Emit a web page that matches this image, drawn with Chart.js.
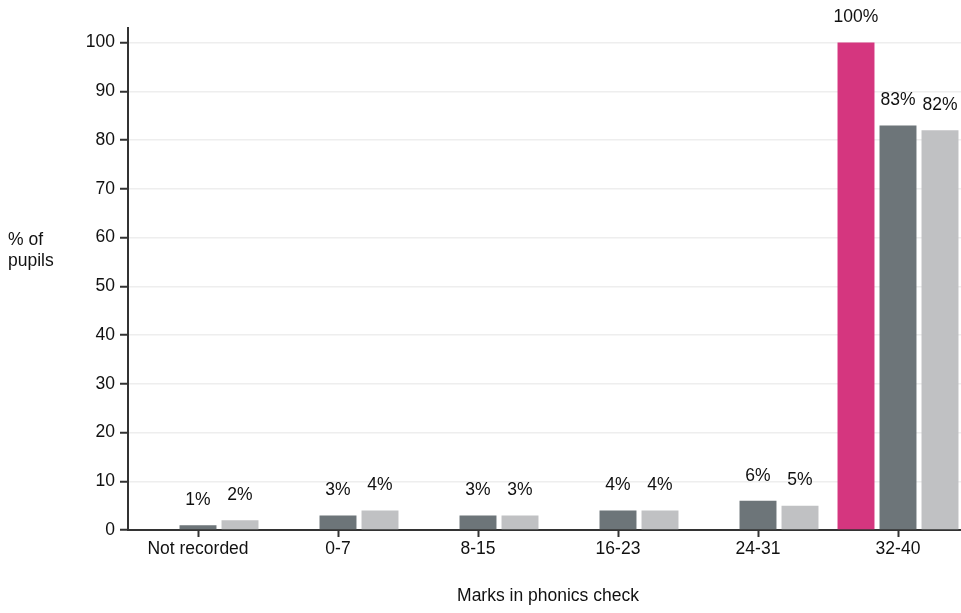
<!DOCTYPE html>
<html>
<head>
<meta charset="utf-8">
<script src="https://cdn.jsdelivr.net/npm/chart.js@4"></script>
<style>
  html, body { margin: 0; padding: 0; background: #fff; overflow: hidden; }
  #wrap { width: 968px; height: 613px; }
</style>
</head>
<body>
<div id="wrap"><canvas id="chart"></canvas></div>
<script>
const categories = ["Not recorded", "0-7", "8-15", "16-23", "24-31", "32-40"];
const schoolValues = [0, 0, 0, 0, 0, 100];
const groupValues = [1, 3, 3, 4, 6, 83];
const nationalValues = [2, 4, 3, 4, 5, 82];
const yTicks = [0, 10, 20, 30, 40, 50, 60, 70, 80, 90, 100];

const FONT = "'Liberation Sans', Arial, sans-serif";
const FS = 17.5;

// value labels above bars + axis titles
const labelPlugin = {
    id: "labels",
    afterDatasetsDraw(chart) {
        const ctx = chart.ctx;
        ctx.save();
        ctx.font = FS + "px " + FONT;
        ctx.fillStyle = "#111";
        ctx.textAlign = "center";
        ctx.textBaseline = "middle";
        chart.data.datasets.forEach((ds, i) => {
            const meta = chart.getDatasetMeta(i);
            meta.data.forEach((bar, j) => {
                const v = ds.data[j];
                if (!v) return;
                ctx.fillText(v + "%", bar.x, bar.y - 25);
            });
        });

        ctx.textAlign = "left";
        ctx.fillText("% of", 8, 240);
        ctx.fillText("pupils", 8, 261);

        ctx.textAlign = "center";
        const a = chart.chartArea;
        ctx.fillText("Marks in phonics check", (a.left + a.right) / 2, 596);
        ctx.restore();
    }
};

new Chart(document.getElementById("chart"), {
    type: "bar",
    data: {
        labels: categories,
        datasets: [
            { label: "School", data: schoolValues, backgroundColor: "#d5367f" },
            { label: "Group", data: groupValues, backgroundColor: "#6d7579" },
            { label: "National", data: nationalValues, backgroundColor: "#c0c1c3" }
        ]
    },
    options: {
        responsive: true,
        maintainAspectRatio: false,
        animation: false,
        datasets: {
            bar: { categoryPercentage: 0.9, barPercentage: 0.88 }
        },
        layout: { padding: { top: 28, right: 0, left: 0, bottom: 0 } },
        plugins: {
            legend: { display: false },
            tooltip: { enabled: false }
        },
        scales: {
            x: {
                grid: {
                    offset: false,
                    drawOnChartArea: false,
                    drawTicks: true,
                    tickLength: 7,
                    tickColor: "#333",
                    tickWidth: 2
                },
                border: { color: "#333", width: 2 },
                ticks: {
                    color: "#111",
                    font: { size: FS, family: FONT },
                    padding: 2,
                    maxRotation: 0
                },
                afterFit: s => { s.height = 83; }
            },
            y: {
                min: 0,
                max: 103,
                afterBuildTicks: s => { s.ticks = yTicks.map(v => ({ value: v })); },
                grid: {
                    color: "#eeeeee",
                    lineWidth: 1.5,
                    tickColor: "#333",
                    tickWidth: 2,
                    tickLength: 8
                },
                border: { color: "#333", width: 2 },
                ticks: {
                    color: "#111",
                    font: { size: FS, family: FONT },
                    padding: 5
                },
                afterFit: s => { s.width = 128; }
            }
        }
    },
    plugins: [labelPlugin]
});
</script>
</body>
</html>
